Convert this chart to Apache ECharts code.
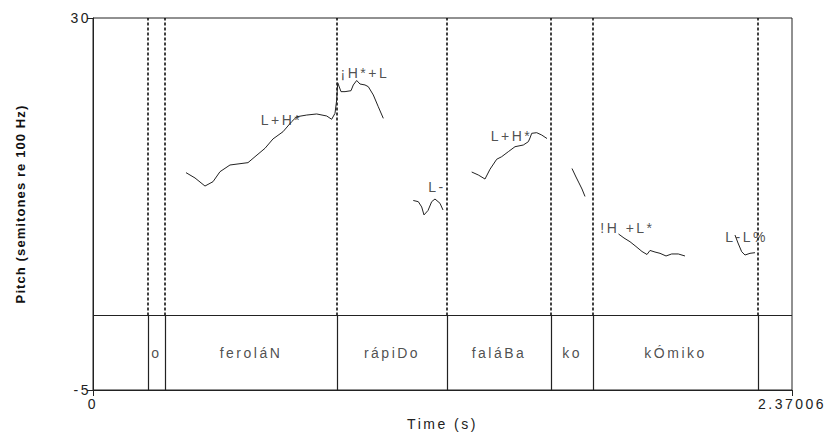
<!DOCTYPE html>
<html>
<head>
<meta charset="utf-8">
<script src="https://cdn.jsdelivr.net/npm/echarts@6/dist/echarts.min.js"></script>
<style>
  html, body { margin: 0; padding: 0; background: #fff; }
  #chart { width: 827px; height: 433px; }
  /* the original plot has wide letter spacing on its labels */
  #chart text { letter-spacing: 2.5px; }
</style>
</head>
<body>
<div id="chart"></div>
<script>
// axis ranges
var timeMax = 2.37006;
var pitchMin = -5;
var pitchMax = 30;
var tierTop = 2;     // top edge of the word tier
var tierMid = -1.5;

// word tier: interval boundaries (s) and the words between them
var boundaries = [0.1865, 0.244, 0.8274, 1.2004, 1.553, 1.6955, 2.255];
var words = ['', 'o', 'feroláN', 'rápiDo', 'faláBa', 'ko', 'kÓmiko', ''];

// tone labels
var toneTimes  = [0.639, 0.922, 1.166, 1.419, 1.812, 2.216];
var toneValues = [20.4, 24.83, 14.1, 18.9, 10.24, 9.4];
var toneLabels = ['L+H*', '¡H*+L', 'L-', 'L+H*', '!H +L*', 'L-L%'];

// pitch contours, [time, semitones]
var contourFerolan = [
  [0.3153, 15.45], [0.3458, 14.95], [0.3797, 14.19], [0.4069, 14.60], [0.4306, 15.54],
  [0.4645, 16.17], [0.5255, 16.39], [0.5493, 16.95], [0.5832, 17.74], [0.6103, 18.62],
  [0.6442, 19.30], [0.6737, 20.25], [0.6907, 20.71], [0.7246, 20.87], [0.7585, 20.97],
  [0.7924, 20.78], [0.8093, 20.47], [0.8205, 21.03], [0.8263, 22.29], [0.8297, 23.91],
  [0.8409, 23.07], [0.8545, 23.07], [0.8748, 23.16], [0.8826, 23.70], [0.8941, 24.12],
  [0.9053, 23.79], [0.9223, 23.70], [0.9334, 23.54], [0.9504, 22.76], [0.9673, 21.65],
  [0.9843, 20.56]
];
var contourRapido = [
  [1.0860, 12.83], [1.1030, 12.72], [1.1145, 12.22], [1.1223, 11.47], [1.1359, 11.89],
  [1.1484, 12.72], [1.1596, 12.97], [1.1765, 12.57], [1.1867, 11.94]
];
var contourFalaba = [
  [1.2840, 15.51], [1.3064, 15.23], [1.3291, 14.85], [1.3461, 15.77], [1.3688, 16.71],
  [1.3857, 16.95], [1.4081, 17.42], [1.4308, 17.89], [1.4590, 18.05], [1.4760, 18.36],
  [1.4817, 18.71], [1.4875, 19.15], [1.5044, 19.21], [1.5214, 18.99], [1.5393, 18.66]
];
var contourKo = [
  [1.6241, 15.84], [1.6377, 15.04], [1.6478, 14.48], [1.6580, 13.91], [1.6682, 13.21]
];
var contourKomiko = [
  [1.7818, 9.68], [1.8004, 9.30], [1.8208, 8.95], [1.8411, 8.50], [1.8615, 8.03],
  [1.8784, 7.75], [1.8886, 8.13], [1.9056, 7.98], [1.9225, 7.86], [1.9429, 7.61],
  [1.9621, 7.80], [1.9845, 7.80], [2.0072, 7.61]
];
var contourFinal = [
  [2.1768, 9.58], [2.1870, 8.83], [2.1995, 8.01], [2.2107, 7.70], [2.2277, 7.86], [2.2446, 7.92]
];

var contours = [contourFerolan, contourRapido, contourFalaba, contourKo, contourKomiko, contourFinal];
var fontMain = 'Liberation Sans, Arial, sans-serif';
var yName = 'Pitch (semitones re 100 Hz)';

var chart = echarts.init(document.getElementById('chart'), null, { renderer: 'svg' });

// contour series
var series = contours.map(function (c) {
  return {
    type: 'line',
    data: c,
    symbol: 'none',
    smooth: false,
    lineStyle: { color: '#222', width: 1 },
    z: 3
  };
});

// dotted boundaries above the tier
series.push({
  type: 'lines',
  coordinateSystem: 'cartesian2d',
  data: boundaries.map(function (b) {
    return { coords: [[b, tierTop], [b, pitchMax]] };
  }),
  lineStyle: { color: '#000', width: 1.5, type: [3, 2], opacity: 1 },
  z: 2
});

// solid boundaries inside the tier + tier top line
var tierLines = boundaries.map(function (b) {
  return { coords: [[b, pitchMin], [b, tierTop]] };
});
tierLines.push({ coords: [[0, tierTop], [timeMax, tierTop]] });
series.push({
  type: 'lines',
  coordinateSystem: 'cartesian2d',
  data: tierLines,
  lineStyle: { color: '#222', width: 1.2, opacity: 1 },
  z: 2
});

// words in the tier
var edges = [0].concat(boundaries, [timeMax]);
var wordData = [];
for (var i = 0; i < words.length; i++) {
  if (!words[i]) continue;
  wordData.push({ value: [(edges[i] + edges[i + 1]) / 2, tierMid], name: words[i] });
}
series.push({
  type: 'scatter',
  data: wordData,
  symbolSize: 0,
  label: {
    show: true, position: 'inside', formatter: '{b}',
    color: '#222', fontFamily: fontMain, fontSize: 14
  },
  z: 4
});

// tone labels
series.push({
  type: 'scatter',
  data: toneLabels.map(function (l, i) {
    return { value: [toneTimes[i], toneValues[i]], name: l };
  }),
  symbolSize: 0,
  label: {
    show: true, position: 'inside', formatter: '{b}',
    color: '#222', fontFamily: fontMain, fontSize: 14
  },
  z: 4
});

var option = {
  animation: false,
  backgroundColor: '#fff',
  grid: {
    left: 93, top: 18, right: 35, bottom: 43,
    outerBoundsMode: 'none',
    show: true, borderColor: '#222', borderWidth: 1
  },
  xAxis: {
    type: 'value',
    min: 0,
    max: timeMax,
    name: 'Time (s)',
    nameLocation: 'middle',
    nameGap: 27,
    nameTextStyle: { color: '#222', fontFamily: fontMain, fontSize: 14 },
    axisLine: { show: true, onZero: false, lineStyle: { color: '#222', width: 1 } },
    axisTick: { show: true, length: 6, customValues: [0, timeMax], lineStyle: { color: '#222' } },
    axisLabel: {
      customValues: [0, timeMax], margin: 7, color: '#222',
      fontFamily: fontMain, fontSize: 14,
      formatter: function (v) { return String(v); }
    },
    splitLine: { show: false }
  },
  yAxis: {
    type: 'value',
    min: pitchMin,
    max: pitchMax,
    name: yName,
    nameLocation: 'middle',
    nameRotate: 90,
    nameGap: 66,
    nameTextStyle: {
      color: '#111', fontFamily: fontMain,
      fontSize: 13, fontWeight: 'bold'
    },
    axisLine: { show: true, onZero: false, lineStyle: { color: '#222', width: 1 } },
    axisTick: { show: true, length: 6, customValues: [pitchMin, pitchMax], lineStyle: { color: '#222' } },
    axisLabel: {
      customValues: [pitchMin, pitchMax], margin: 2, color: '#222',
      fontFamily: fontMain, fontSize: 14,
      formatter: function (v) { return String(v); }
    },
    splitLine: { show: false }
  },
  series: series
};

chart.setOption(option);

// the axis title is tighter than the other labels
function tightenTitle() {
  var texts = document.querySelectorAll('#chart text');
  for (var k = 0; k < texts.length; k++) {
    if (texts[k].textContent === yName) texts[k].style.letterSpacing = '1.1px';
  }
}
tightenTitle();
chart.on('finished', tightenTitle);
</script>
</body>
</html>
